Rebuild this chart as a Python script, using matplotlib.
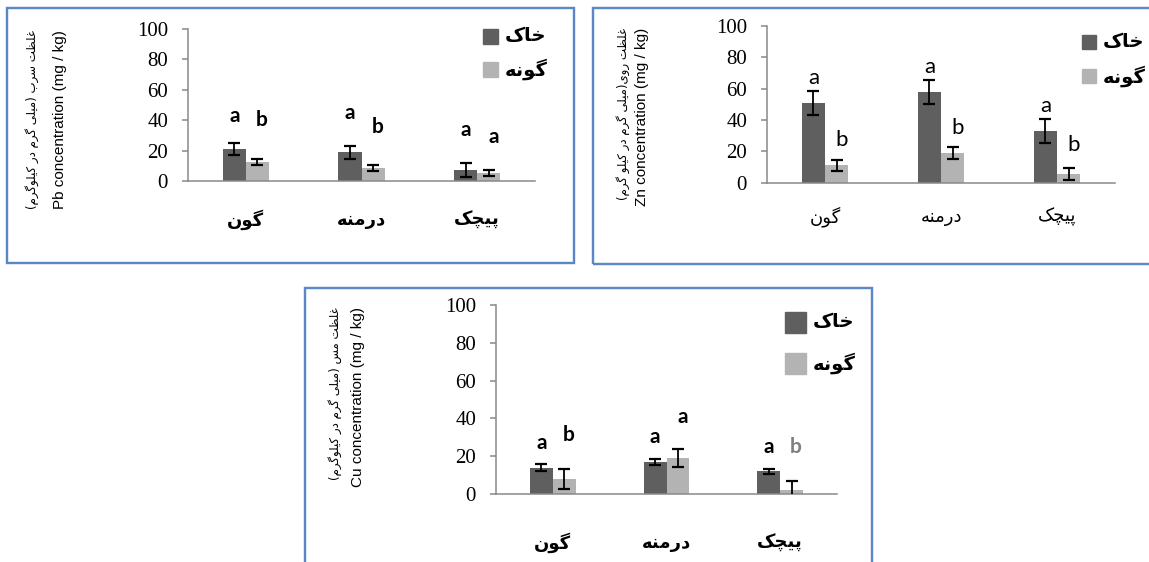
import matplotlib
matplotlib.use("Agg")
import matplotlib.pyplot as plt
from matplotlib.patches import Rectangle
from matplotlib import transforms

plt.rcParams["font.family"] = ["Liberation Serif", "DejaVu Serif"]

# ---------------- data ----------------
species = ["گون", "درمنه", "پیچک"]
series_names = ["خاک", "گونه"]

pb_soil = [21, 19, 7.5]
pb_soil_err = [4.2, 4.3, 4.6]
pb_plant = [12.5, 8.3, 5.5]
pb_plant_err = [2.0, 2.0, 2.0]
pb_soil_letters = ["a", "a", "a"]
pb_plant_letters = ["b", "b", "a"]

zn_soil = [51, 58, 33]
zn_soil_err = [7.7, 7.6, 7.6]
zn_plant = [11, 19, 5.5]
zn_plant_err = [3.7, 4.0, 3.7]
zn_soil_letters = ["a", "a", "a"]
zn_plant_letters = ["b", "b", "b"]

cu_soil = [14, 17, 12]
cu_soil_err = [1.7, 1.6, 1.3]
cu_plant = [8, 19, 2]
cu_plant_err = [5.2, 4.8, 4.9]
cu_soil_letters = ["a", "a", "a"]
cu_plant_letters = ["b", "a", "b"]

yticks = [0, 20, 40, 60, 80, 100]

pb_ylabel_fa = "غلظت سرب (میلی گرم در کیلوگرم)"
pb_ylabel_en = "Pb concentration (mg / kg)"
zn_ylabel_fa = "غلظت روی(میلی گرم در کیلو گرم)"
zn_ylabel_en = "Zn concentration (mg / kg)"
cu_ylabel_fa = "غلظت مس (میلی گرم در کیلوگرم)"
cu_ylabel_en = "Cu concentration (mg / kg)"

# ---------------- Persian shaping (contextual forms + RTL order) ----------------
FORMS = {
    "ا": ("\uFE8D", "\uFE8E", None, None),
    "ب": ("\uFE8F", "\uFE90", "\uFE91", "\uFE92"),
    "پ": ("\uFB56", "\uFB57", "\uFB58", "\uFB59"),
    "ت": ("\uFE95", "\uFE96", "\uFE97", "\uFE98"),
    "چ": ("\uFB7A", "\uFB7B", "\uFB7C", "\uFB7D"),
    "خ": ("\uFEA5", "\uFEA6", "\uFEA7", "\uFEA8"),
    "د": ("\uFEA9", "\uFEAA", None, None),
    "ر": ("\uFEAD", "\uFEAE", None, None),
    "س": ("\uFEB1", "\uFEB2", "\uFEB3", "\uFEB4"),
    "ظ": ("\uFEC5", "\uFEC6", "\uFEC7", "\uFEC8"),
    "غ": ("\uFECD", "\uFECE", "\uFECF", "\uFED0"),
    "ل": ("\uFEDD", "\uFEDE", "\uFEDF", "\uFEE0"),
    "م": ("\uFEE1", "\uFEE2", "\uFEE3", "\uFEE4"),
    "ن": ("\uFEE5", "\uFEE6", "\uFEE7", "\uFEE8"),
    "ه": ("\uFEE9", "\uFEEA", "\uFEEB", "\uFEEC"),
    "و": ("\uFEED", "\uFEEE", None, None),
    "ک": ("\uFB8E", "\uFB8F", "\uFB90", "\uFB91"),
    "گ": ("\uFB92", "\uFB93", "\uFB94", "\uFB95"),
    "ی": ("\uFBFC", "\uFBFD", "\uFBFE", "\uFBFF"),
}
RIGHT_JOINING = set("ادذرزژو")
MIRROR = {"(": ")", ")": "("}


def fa(text):
    out = []
    for i, ch in enumerate(text):
        if ch not in FORMS:
            out.append(MIRROR.get(ch, ch))
            continue
        prev = text[i - 1] if i > 0 else ""
        nxt = text[i + 1] if i + 1 < len(text) else ""
        join_prev = prev in FORMS and prev not in RIGHT_JOINING
        join_next = nxt in FORMS and ch not in RIGHT_JOINING
        iso, fin, ini, med = FORMS[ch]
        if join_prev and join_next:
            out.append(med)
        elif join_prev:
            out.append(fin)
        elif join_next:
            out.append(ini)
        else:
            out.append(iso)
    return "".join(out)[::-1]


# ---------------- figure ----------------
W, H = 1149, 562
fig = plt.figure(figsize=(W / 100, H / 100), dpi=100)
fig.patch.set_facecolor("white")

DARK = "#5f5f5f"
LIGHT = "#b3b3b3"
AXIS_GRAY = "#898989"
FRAME_BLUE = "#5b87c5"
FA_FONT = ["DejaVu Sans"]
PX2PT = 72 / 100


def px_fig(x, y):
    return x / W, 1 - y / H


def frame(x0, y0, x1, y1):
    fx, fy = px_fig(x0, y1)
    fig.patches.append(Rectangle((fx, fy), (x1 - x0) / W, (y1 - y0) / H,
                                 transform=fig.transFigure, fill=False,
                                 edgecolor=FRAME_BLUE, linewidth=2.0 * PX2PT * 1.2))


def panel(box, soil, soil_err, plant, plant_err, soil_letters, plant_letters,
          soil_lab_y, plant_lab_y, letter_weight, letter_size, cat_y, cat_weight,
          ylab_fa, ylab_en, ylab_x_fa, ylab_x_en, ylab_top,
          legend_x, legend_ys, legend_sq, legend_size, letter_colors=None):
    x0, y0, x1, y1 = box
    fx, fy = px_fig(x0, y1)
    ax = fig.add_axes([fx, fy, (x1 - x0) / W, (y1 - y0) / H])
    pos = list(range(len(species)))
    w = 0.2
    ax.bar([p - w / 2 for p in pos], soil, width=w, color=DARK, zorder=2)
    ax.bar([p + w / 2 for p in pos], plant, width=w, color=LIGHT, zorder=2)
    ek = dict(fmt="none", ecolor="black", elinewidth=1.3, capsize=4.5,
              capthick=1.6, zorder=3)
    ax.errorbar([p - w / 2 for p in pos], soil, yerr=soil_err, **ek)
    ax.errorbar([p + w / 2 for p in pos], plant, yerr=plant_err, **ek)
    ax.set_xlim(-0.5, len(species) - 0.5)
    ax.set_ylim(0, 100)
    ax.set_yticks(yticks)
    ax.tick_params(axis="y", direction="out", length=6 * PX2PT, width=1.1,
                   color=AXIS_GRAY, pad=10, labelsize=15, labelcolor="black")
    for lab in ax.get_yticklabels():
        lab.set_fontfamily(["Liberation Serif", "DejaVu Serif"])
    ax.set_xticks([])
    for s in ("top", "right"):
        ax.spines[s].set_visible(False)
    for s in ("left", "bottom"):
        ax.spines[s].set_color(AXIS_GRAY)
        ax.spines[s].set_linewidth(1.1)
    ax.patch.set_alpha(0)

    for i, p in enumerate(pos):
        ax.text(p - w / 2, soil_lab_y[i], soil_letters[i], ha="center", va="center",
                family=["Lato"], fontweight=letter_weight, fontsize=letter_size)
        col = letter_colors[i] if letter_colors else "black"
        ax.text(p + w / 2 + 0.04, plant_lab_y[i], plant_letters[i], ha="center",
                va="center", family=["Lato"], fontweight=letter_weight,
                fontsize=letter_size, color=col)

    trans = transforms.blended_transform_factory(ax.transData, fig.transFigure)
    for i, p in enumerate(pos):
        ax.text(p, 1 - cat_y / H, fa(species[i]), transform=trans, ha="center",
                va="center", family=FA_FONT, fontweight=cat_weight, fontsize=13)

    fig.text(*px_fig(ylab_x_fa, ylab_top), fa(ylab_fa), rotation=90, ha="center",
             va="top", family=FA_FONT, fontsize=8.5)
    fig.text(*px_fig(ylab_x_en, ylab_top), ylab_en, rotation=90, ha="center",
             va="top", family=["Liberation Sans"], fontsize=11)

    for name, col, ly in zip(series_names, (DARK, LIGHT), legend_ys):
        sx, sy = px_fig(legend_x, ly + legend_sq / 2)
        fig.patches.append(Rectangle((sx, sy), legend_sq / W, legend_sq / H,
                                     transform=fig.transFigure, color=col))
        fig.text(*px_fig(legend_x + legend_sq + 7, ly), fa(name), ha="left",
                 va="center", family=FA_FONT, fontweight="bold",
                 fontsize=legend_size)
    return ax


# panel frames
frame(7, 8, 574, 263)
frame(593, 8, 1165, 264)
frame(305, 288, 872, 580)

# lead
panel((188, 29, 535, 181), pb_soil, pb_soil_err, pb_plant, pb_plant_err,
      pb_soil_letters, pb_plant_letters, [43, 45, 33.5], [40, 35.5, 29],
      "bold", 15, 220, "bold", pb_ylabel_fa, pb_ylabel_en, 32, 60, 30,
      483, (36, 69), 15, 14)

# zinc
panel((767, 25.7, 1115, 182.7), zn_soil, zn_soil_err, zn_plant, zn_plant_err,
      zn_soil_letters, zn_plant_letters, [66.6, 74, 49], [27, 35, 24],
      "normal", 16, 217, "normal", zn_ylabel_fa, zn_ylabel_en, 623, 642, 28,
      1082, (42, 76), 14, 14)

# copper
panel((496, 305, 837, 494), cu_soil, cu_soil_err, cu_plant, cu_plant_err,
      cu_soil_letters, cu_plant_letters, [26.8, 30.3, 25], [31.2, 40.9, 25],
      "bold", 15, 543, "bold", cu_ylabel_fa, cu_ylabel_en, 335, 358, 307,
      785, (322, 363), 21, 14, letter_colors=["black", "black", "#7f7f7f"])

fig.savefig("out.png", dpi=100)
